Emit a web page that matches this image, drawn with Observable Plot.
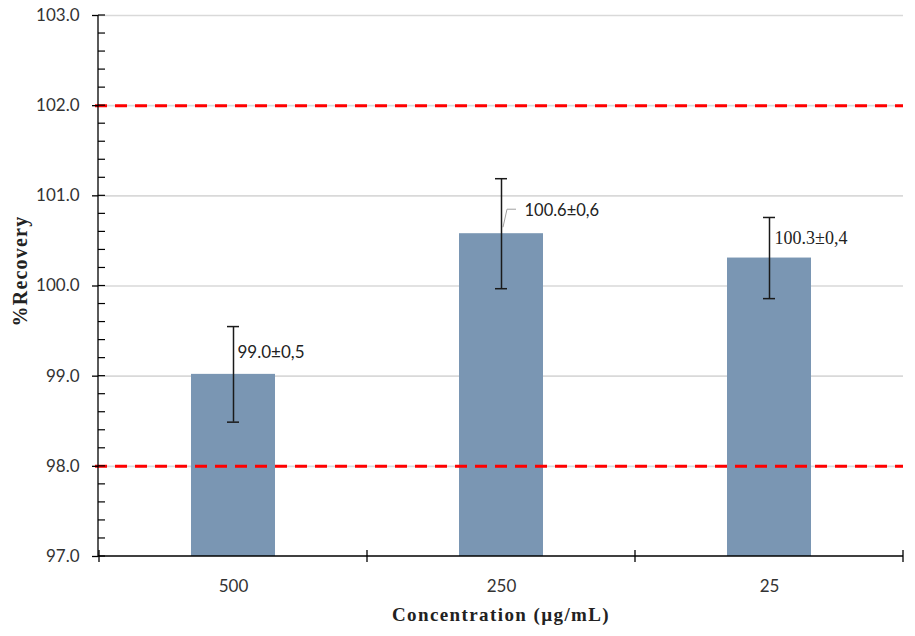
<!DOCTYPE html>
<html><head><meta charset="utf-8">
<script src="https://cdn.jsdelivr.net/npm/d3@7"></script>
<script src="https://cdn.jsdelivr.net/npm/@observablehq/plot@0.6"></script>
<style>
body{margin:0;background:#fff}
#chart svg{display:block;background:#fff}
</style></head><body><div id="chart"></div>
<script>
const categories = ["500", "250", "25"];
const recovery = [99.02, 100.58, 100.31];
const sd = [0.53, 0.61, 0.45];
const labels = ["99.0±0,5", "100.6±0,6", "100.3±0,4"];
const yTicks = [97, 98, 99, 100, 101, 102, 103];
const limits = [98, 102];
const xTitle = "Concentration (µg/mL)";
const yTitle = "%Recovery";

const data = categories.map((c, i) => ({c, v: recovery[i], e: sd[i], label: labels[i]}));
const minorTicks = d3.range(97, 103.0001, 0.2).map(v => +v.toFixed(1));

function decor(index, scales, values, dim) {
  const {x, y} = scales;
  const x0 = dim.marginLeft, x1 = dim.width - dim.marginRight;
  const yb = y(97), yt = y(103);
  const g = d3.create("svg:g").attr("fill", "none").attr("stroke", "#000");
  for (const t of minorTicks) {
    g.append("line").attr("x1", x0).attr("x2", x0 + 7).attr("y1", y(t)).attr("y2", y(t)).attr("stroke-width", 1.2);
  }
  g.append("line").attr("x1", x0).attr("x2", x0).attr("y1", yt).attr("y2", yb).attr("stroke-width", 1.3);
  g.append("line").attr("x1", x0).attr("x2", x1).attr("y1", yb).attr("y2", yb).attr("stroke-width", 1.3);
  const bw = typeof x.bandwidth === "function" ? x.bandwidth() : (x.bandwidth || 0);
  const step = typeof x.step === "function" ? x.step() : (x1 - x0) / categories.length;
  const seps = categories.map(c => x(c) + bw / 2 - step / 2);
  seps.push(x(categories[categories.length - 1]) + bw / 2 + step / 2);
  for (const s of seps) {
    g.append("line").attr("x1", s).attr("x2", s).attr("y1", yb - 6).attr("y2", yb + 6).attr("stroke-width", 1.3);
  }
  const cx = x(categories[1]) + bw / 2, cy = y(recovery[1]);
  g.append("path").attr("d", `M${cx + 2},${cy - 6}L${cx + 6},${cy - 24}L${cx + 15},${cy - 24}`)
    .attr("stroke", "#a0a0a0").attr("stroke-width", 1);
  return g.node();
}

const errFill = "#1a1a1a";
const chart = Plot.plot({
  width: 915,
  height: 636,
  marginLeft: 98,
  marginRight: 12,
  marginTop: 15,
  marginBottom: 80,
  style: {background: "#fff"},
  x: {type: "band", domain: categories, paddingInner: 0.687, paddingOuter: 0.3435},
  y: {domain: [97, 103]},
  marks: [
    Plot.ruleY(yTicks.slice(1), {stroke: "#d9d9d9", strokeWidth: 1.6}),
    Plot.barY(data, {x: "c", y1: 97, y2: "v", fill: "#7a96b3"}),
    Plot.ruleY(limits, {stroke: "#ff0000", strokeWidth: 3, strokeDasharray: "12,8", insetLeft: -3}),
    decor,
    Plot.axisY({ticks: yTicks, tickFormat: d3.format(".1f"), tickSize: 6, tickPadding: 13, label: null,
      fontSize: 17, fontFamily: "Lato", fill: "#333", stroke: "#000", strokeWidth: 1.3}),
    Plot.axisX({tickSize: 0, tickPadding: 23, label: null, fontSize: 17, fontFamily: "Lato", fill: "#333"}),
    Plot.ruleX(data, {x: "c", y1: d => d.v - d.e, y2: d => d.v + d.e, stroke: errFill, strokeWidth: 1.5}),
    Plot.tickY(data, {x: "c", y: d => d.v - d.e, insetLeft: 36, insetRight: 36, stroke: errFill, strokeWidth: 1.5}),
    Plot.tickY(data, {x: "c", y: d => d.v + d.e, insetLeft: 36, insetRight: 36, stroke: errFill, strokeWidth: 1.5}),
    Plot.text(data.filter((d, i) => i === 0), {x: "c", y: "v", text: "label", dx: 4, dy: -22, textAnchor: "start",
      fontFamily: "Lato", fontSize: 17, fill: "#222"}),
    Plot.text(data.filter((d, i) => i === 1), {x: "c", y: "v", text: "label", dx: 23, dy: -23, textAnchor: "start",
      fontFamily: "Lato", fontSize: 16.5, fill: "#222"}),
    Plot.text(data.filter((d, i) => i === 2), {x: "c", y: "v", text: "label", dx: 5, dy: -20, textAnchor: "start",
      fontFamily: "Liberation Serif", fontSize: 18, fill: "#222"}),
    Plot.text([xTitle], {text: d => d, frameAnchor: "bottom", dy: 58, textAnchor: "middle", lineAnchor: "middle",
      fontFamily: "Liberation Serif", fontWeight: "bold", fontSize: 19, fill: "#222"}),
    Plot.text([yTitle], {text: d => d, frameAnchor: "left", dx: -78, dy: -15, rotate: -90, textAnchor: "middle",
      lineAnchor: "middle", fontFamily: "Liberation Serif", fontWeight: "bold", fontSize: 20, fill: "#222"})
  ]
});
d3.select(chart).selectAll("text").filter(function () {
  return this.textContent === xTitle;
}).style("letter-spacing", "1.4px");
d3.select(chart).selectAll("text").filter(function () {
  return this.textContent === yTitle;
}).style("letter-spacing", "1.2px");
document.getElementById("chart").appendChild(chart);
</script>
</body></html>
